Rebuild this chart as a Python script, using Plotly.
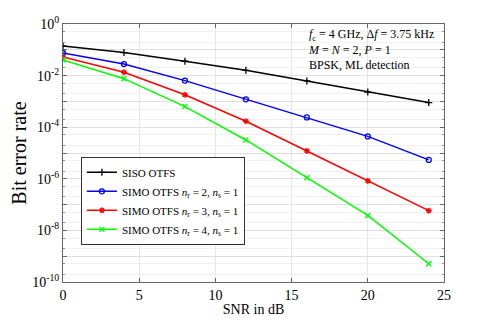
import plotly.graph_objects as go

snr = [0, 4, 8, 12, 16, 20, 24]

ber_siso = [0.14, 0.078, 0.036, 0.016, 0.0062, 0.0023, 0.00090]
ber_nr2 = [0.075, 0.028, 0.0064, 0.0012, 2.4e-4, 4.4e-5, 5.4e-6]
ber_nr3 = [0.053, 0.0135, 0.0018, 1.7e-4, 1.2e-5, 8.3e-7, 5.8e-8]
ber_nr4 = [0.040, 0.0076, 6.3e-4, 3.2e-5, 1.1e-6, 3.8e-8, 5.1e-10]

names = [
    "SISO OTFS",
    "SIMO OTFS <i>n</i><sub>r</sub> = 2, <i>n</i><sub>s</sub> = 1",
    "SIMO OTFS <i>n</i><sub>r</sub> = 3, <i>n</i><sub>s</sub> = 1",
    "SIMO OTFS <i>n</i><sub>r</sub> = 4, <i>n</i><sub>s</sub> = 1",
]
colors = ["#000000", "#0000ff", "#ff0000", "#00ff00"]
symbols = ["cross-thin-open", "circle-open", "asterisk-open", "x-thin-open"]

fig = go.Figure()
for name, ys, c, s in zip(names, [ber_siso, ber_nr2, ber_nr3, ber_nr4], colors, symbols):
    fig.add_trace(go.Scatter(
        x=snr, y=ys, name=name, mode="lines+markers",
        line=dict(color=c, width=1.5),
        marker=dict(symbol=s, size=5, color=c, line=dict(color=c, width=1.3)),
    ))

decades = list(range(0, -11, -1))
tickvals = [10.0 ** d for d in decades]
ticktext = ["10<sup>%d</sup>" % d if d % 2 == 0 else "" for d in decades]

fig.add_annotation(
    x=1, y=1, xref="paper", yref="paper", xanchor="right", yanchor="top",
    xshift=-8, yshift=-1, align="left", showarrow=False,
    text="<i>f</i><sub>c</sub> = 4 GHz, Δ<i>f</i> = 3.75 kHz<br>"
         "<i>M</i> = <i>N</i> = 2, <i>P</i> = 1<br>BPSK, ML detection",
    font=dict(family="Liberation Serif", size=12, color="black"),
)

# page body adds an 8px offset, so the figure is sized to fit the window
fig.update_layout(
    width=483, height=319,
    margin=dict(l=55, r=47, t=16, b=45),
    paper_bgcolor="white", plot_bgcolor="white",
    font=dict(family="Liberation Serif", size=14, color="black"),
    legend=dict(
        x=0.047, y=0.485, xanchor="left", yanchor="top",
        bgcolor="white", bordercolor="#333333", borderwidth=1,
        font=dict(family="Liberation Serif", size=11),
        tracegroupgap=0, itemwidth=30,
    ),
    xaxis=dict(
        range=[0, 25], dtick=5, tick0=0, automargin=False,
        showline=True, linecolor="#666666", mirror="ticks",
        ticks="inside", ticklen=4, tickcolor="#666666",
        showgrid=True, gridcolor="#e6e6e6", zeroline=False,
        tickfont=dict(size=14),
        title=dict(text="SNR in dB", font=dict(size=14), standoff=2),
    ),
    yaxis=dict(
        type="log", range=[-10, 0], automargin=False,
        tickvals=tickvals, ticktext=ticktext,
        showline=True, linecolor="#666666", mirror="ticks",
        ticks="inside", ticklen=4, tickcolor="#666666",
        showgrid=True, gridcolor="#e0e0e0", zeroline=False,
        tickfont=dict(size=14),
        minor=dict(showgrid=True, gridcolor="#f2f2f2", ticks="inside",
                   ticklen=2, tickcolor="#999999"),
        title=dict(text="Bit error rate", font=dict(size=20), standoff=0),
    ),
)

fig.write_html("out.html")
